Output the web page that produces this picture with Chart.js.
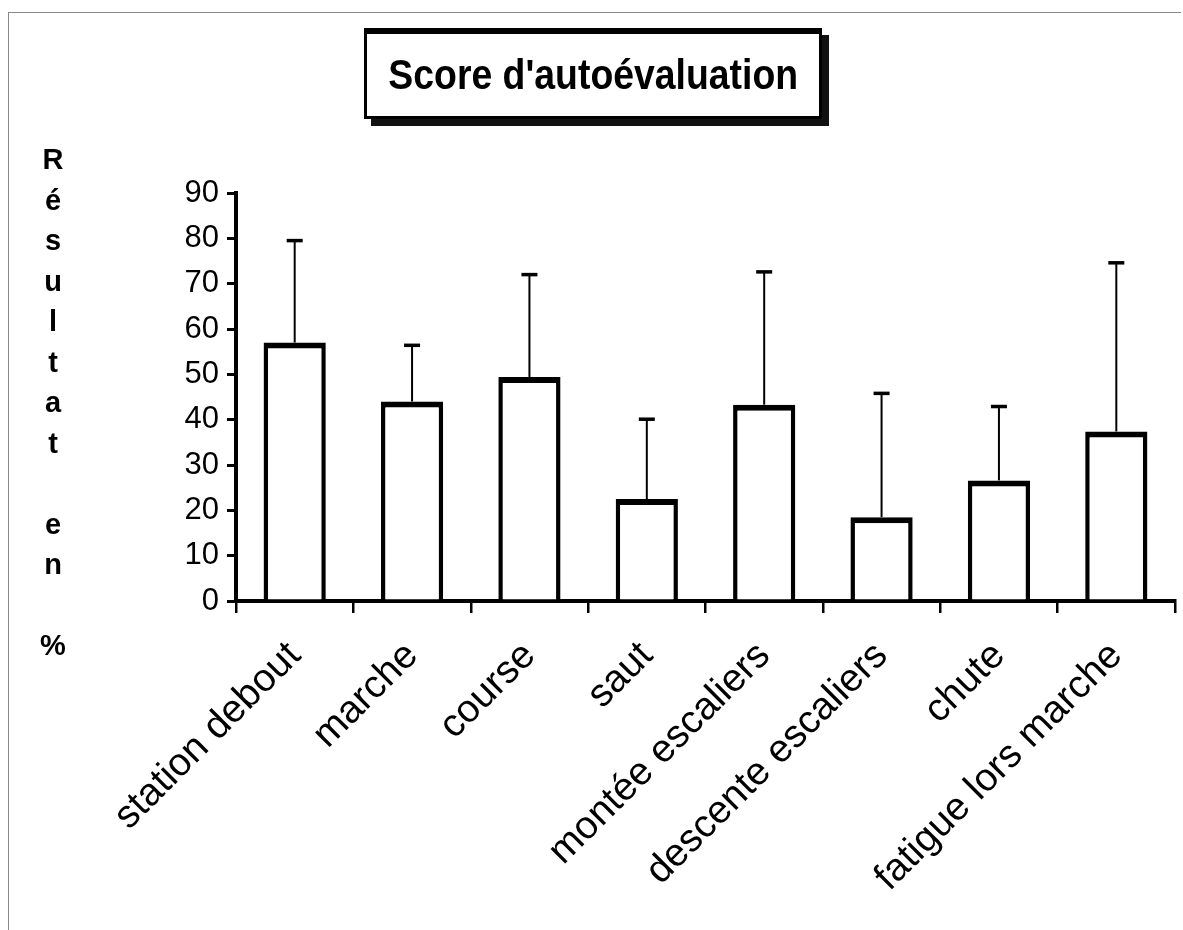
<!DOCTYPE html>
<html>
<head>
<meta charset="utf-8">
<script src="https://cdn.jsdelivr.net/npm/chart.js@4.4.1/dist/chart.umd.min.js"></script>
<style>
  body { margin: 0; background: #fff; }
  #wrap { position: relative; width: 1183px; height: 930px; }
  #frame { position: absolute; left: 8px; top: 12px; width: 1172px; height: 930px;
           border-left: 1px solid #888; border-top: 1px solid #888; }
  #titleBox { position: absolute; left: 364px; top: 28px; width: 452px; height: 82px;
              border: 3px solid #000; border-top-width: 6px; background: #fff; box-shadow: 7px 7px 0 #111;
              display: flex; align-items: center; justify-content: center; }
  #titleBox span { font: bold 42px "Liberation Sans", Arial, sans-serif; transform: scaleX(0.89); white-space: nowrap; }
  #yLabel { position: absolute; left: 38px; top: 139px; width: 30px; text-align: center;
            font: bold 29px "Liberation Sans", Arial, sans-serif; line-height: 40.5px; }
  canvas { position: absolute; left: 0; top: 0; }
</style>
</head>
<body>
<div id="wrap">
  <div id="frame"></div>
  <canvas id="myChart" width="1183" height="930"></canvas>
  <div id="titleBox"><span>Score d'autoévaluation</span></div>
  <div id="yLabel"></div>
</div>
<script>
let categories = ["station debout", "marche", "course", "saut", "montée escaliers",
  "descente escaliers", "chute", "fatigue lors marche"];
let means = [57, 44, 49.4, 22.5, 43.3, 18.5, 26.6, 37.4];
let upperValues = [79.5, 56.4, 72, 40.1, 72.6, 45.8, 42.9, 74.6];
let yTicks = [0, 10, 20, 30, 40, 50, 60, 70, 80, 90];
let yLabelLetters = ["R", "é", "s", "u", "l", "t", "a", "t", "", "e", "n", "", "%"];

document.getElementById("yLabel").innerHTML = yLabelLetters.map((l) => l || "&nbsp;").join("<br>");

let myChart = document.getElementById("myChart");

// whiskers go up from each bar to its upper value, with a small cap
const errorBars = {
  id: "errorBars",
  afterDatasetsDraw(chart) {
    let ctx = chart.ctx;
    let yScale = chart.scales.y;
    let meta = chart.getDatasetMeta(0);
    ctx.save();
    ctx.strokeStyle = "#000";
    meta.data.forEach((bar, i) => {
      let x = bar.x;
      let yBar = yScale.getPixelForValue(means[i]);
      let yTop = yScale.getPixelForValue(upperValues[i]);
      ctx.lineWidth = 2;
      ctx.beginPath();
      ctx.moveTo(x, yBar);
      ctx.lineTo(x, yTop);
      ctx.stroke();
      ctx.lineWidth = 3.5;
      ctx.beginPath();
      ctx.moveTo(x - 8, yTop);
      ctx.lineTo(x + 8, yTop);
      ctx.stroke();
    });
    ctx.restore();
  },
};

const data = {
  labels: categories,
  datasets: [
    {
      data: means,
      backgroundColor: "#fff",
      borderColor: "#000",
      borderWidth: { top: 6, left: 4.5, right: 4.5, bottom: 0 },
      borderSkipped: "bottom",
      categoryPercentage: 1,
      barPercentage: 0.53,
    },
  ],
};

const config = {
  type: "bar",
  data: data,
  options: {
    responsive: false,
    animation: false,
    layout: { padding: { left: 0, right: 8, top: 193, bottom: 0 } },
    plugins: { legend: { display: false }, tooltip: { enabled: false } },
    scales: {
      x: {
        afterFit: (scale) => { scale.height = 329; },
        border: { color: "#000", width: 4 },
        grid: { drawOnChartArea: false, drawTicks: true, tickLength: 12, color: "#000", lineWidth: 2.5 },
        ticks: {
          color: "#000",
          maxRotation: 45,
          minRotation: 45,
          padding: 20,
          font: { family: "Liberation Sans, Arial, sans-serif", size: 39 },
        },
      },
      y: {
        min: 0,
        max: 90,
        afterFit: (scale) => { scale.width = 236; },
        afterBuildTicks: (scale) => { scale.ticks = yTicks.map((v) => ({ value: v })); },
        border: { color: "#000", width: 4 },
        grid: { drawOnChartArea: false, drawTicks: true, tickLength: 9, color: "#000", lineWidth: 3 },
        ticks: {
          color: "#000",
          padding: 8,
          font: { family: "Liberation Sans, Arial, sans-serif", size: 31 },
        },
      },
    },
  },
  plugins: [errorBars],
};

const newChart = new Chart(myChart, config);
</script>
</body>
</html>
